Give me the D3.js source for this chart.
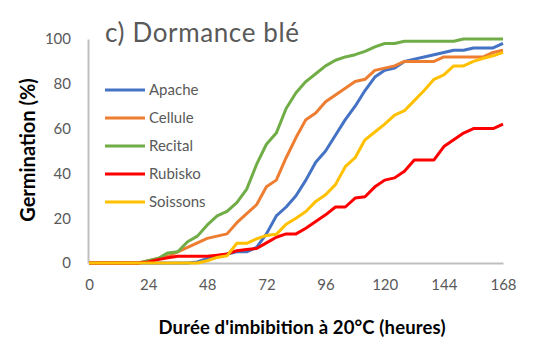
<!DOCTYPE html>
<html><head><meta charset="utf-8">
<script src="https://cdn.jsdelivr.net/npm/d3@7"></script>
<style>body{margin:0;background:#fff}svg{display:block}text{font-family:Lato,"Open Sans",sans-serif}</style>
</head><body><svg id="c" width="541" height="356"></svg>
<script>
const hours = d3.range(0, 169, 4);
const seriesNames = ["Apache","Cellule","Recital","Rubisko","Soissons"];
const colors = ["#4472C4","#ED7D31","#70AD47","#FF0000","#FFC000"];
const apache  = [0,0,0,0,0,0,0,0,0,0,0,0.5,2,3,4,5,5,7,13,21,25,30,37,45,50,57,64,70,77,83,86,87,90,91,92,93,94,95,95,96,96,96,98];
const cellule = [0,0,0,0,0,0,1,2,3,5,7,9,11,12,13,18,22,26,34,37,47,56,64,67,72,75,78,81,82,86,87,88,90,90,90,90,92,92,92,92,92,94,95];
const recital = [0,0,0,0,0,0,1,2,4.5,5,9.5,12,17,21,23,27,33,44,53,58,69,76,81,84.5,88,90.5,92,93,94.5,96.5,98,98,99,99,99,99,99,99,100,100,100,100,100];
const rubisko = [0,0,0,0,0,0,0.5,1.5,2.3,3,3,3,3,3.5,4,5.5,6,6.5,9,11.5,13,13,15.5,18.5,21.5,25,25,29,29.6,34,37,38,41,46,46,46,52,55,58,60,60,60,62];
const soissons= [0,0,0,0,0,0,0,0,0,0,0,0,1,2.5,3.2,8.8,8.8,10.8,12.3,12.8,17.3,20,23,27.5,30.5,35,43,47,55,58.5,62,66,68,72.5,77,82,84,88,88,90,91.4,92.5,94];
const seriesValues = [apache, cellule, recital, rubisko, soissons];
const xTicks = [0,24,48,72,96,120,144,168];
const yTicks = [0,20,40,60,80,100];

const svg = d3.select("#c");
const x = d3.scaleLinear().domain([0,168]).range([89,503]);
const y = d3.scaleLinear().domain([0,100]).range([263,39]);

const gy = svg.append("g").attr("transform","translate(88,0)")
  .call(d3.axisLeft(y).tickValues(yTicks).tickSize(0).tickPadding(17));
gy.select(".domain").attr("stroke","#bfbfbf").attr("stroke-width",2);
gy.selectAll("text").attr("fill","#595959").style("font-size","15px").attr("font-family","Lato");
const gx = svg.append("g").attr("transform","translate(0,263)")
  .call(d3.axisBottom(x).tickValues(xTicks).tickSize(0).tickPadding(16));
gx.select(".domain").attr("stroke","#bfbfbf").attr("stroke-width",2);
gx.selectAll("text").attr("fill","#595959").style("font-size","15px").attr("font-family","Lato");

const line = d3.line().x((d,i)=>x(hours[i])).y(d=>y(d));
seriesValues.forEach((vals,k)=>{
  svg.append("path").datum(vals).attr("d",line)
    .attr("fill","none").attr("stroke",colors[k]).attr("stroke-width",3)
    .attr("stroke-linejoin","round");
});

seriesNames.forEach((n,k)=>{
  const ly = 90 + k*28;
  svg.append("line").attr("x1",105).attr("x2",145).attr("y1",ly).attr("y2",ly)
    .attr("stroke",colors[k]).attr("stroke-width",3);
  svg.append("text").attr("x",149).attr("y",ly).attr("dy","0.35em")
    .attr("fill","#595959").style("font-size","15px").text(n);
});

svg.append("text").attr("x",105).attr("y",42).attr("fill","#595959")
  .style("font-size","26px").attr("textLength",194).text("c) Dormance blé");
svg.append("text").attr("transform","translate(35,150) rotate(-90)")
  .attr("text-anchor","middle").attr("fill","#000").style("font-size","20px")
  .style("font-weight","bold").text("Germination (%)");
svg.append("text").attr("x",302).attr("y",334).attr("text-anchor","middle")
  .attr("fill","#000").style("font-size","18.5px").style("font-weight","bold")
  .attr("textLength",287).text("Durée d'imbibition  à 20°C (heures)");
</script></body></html>
